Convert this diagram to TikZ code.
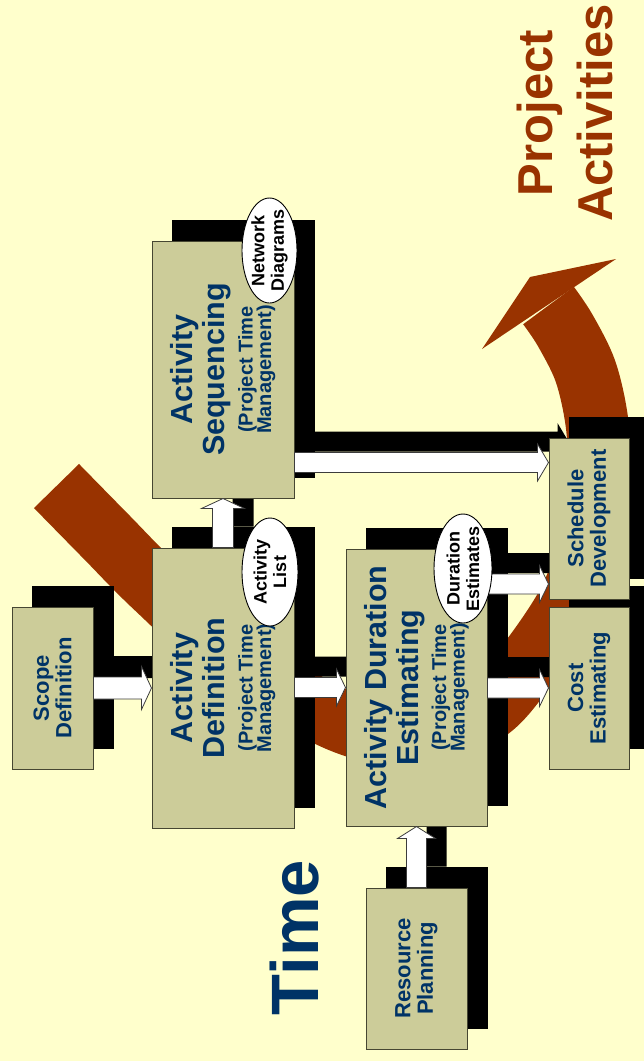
\documentclass[tikz,border=0pt]{standalone}
\usepackage{fontspec}
\setmainfont{Liberation Sans}
\usetikzlibrary{calc,shapes.geometric}
\definecolor{bgy}{RGB}{255,255,204}
\definecolor{rust}{RGB}{153,51,0}
\definecolor{tanbox}{RGB}{204,204,153}
\definecolor{navy}{RGB}{0,51,102}
\definecolor{edgec}{RGB}{70,70,50}
\definecolor{arredge}{RGB}{60,60,60}
\pgfdeclarelayer{back}
\pgfdeclarelayer{shade}
\pgfsetlayers{back,shade,main}
\newcommand{\fBig}{\fontsize{30.5}{32}\selectfont\bfseries}
\newcommand{\fSmall}{\fontsize{20}{18.5}\selectfont\bfseries}
\newcommand{\fBox}{\fontsize{22}{22.5}\selectfont\bfseries}
\newcommand{\fEll}{\fontsize{18}{19.5}\selectfont\bfseries}
% horizontal block arrow: style, from, to(tip), shaft half, head half, head length, dx, dy (canvas pt)
\newcommand{\harrow}[8]{%
\path[#1] let \p1=(#2), \p2=(#3) in
 ({\x1+#7pt},{\y2+#8pt+#4pt}) -- ({\x2-#6pt+#7pt},{\y2+#8pt+#4pt}) --
 ({\x2-#6pt+#7pt},{\y2+#8pt+#5pt}) -- ({\x2+#7pt},{\y2+#8pt}) --
 ({\x2-#6pt+#7pt},{\y2+#8pt-#5pt}) -- ({\x2-#6pt+#7pt},{\y2+#8pt-#4pt}) --
 ({\x1+#7pt},{\y2+#8pt-#4pt}) -- cycle;}
% upward block arrow
\newcommand{\varrow}[8]{%
\path[#1] let \p1=(#2), \p2=(#3) in
 ({\x2+#7pt-#4pt},{\y1+#8pt}) -- ({\x2+#7pt-#4pt},{\y2+#8pt-#6pt}) --
 ({\x2+#7pt-#5pt},{\y2+#8pt-#6pt}) -- ({\x2+#7pt},{\y2+#8pt}) --
 ({\x2+#7pt+#5pt},{\y2+#8pt-#6pt}) -- ({\x2+#7pt+#4pt},{\y2+#8pt-#6pt}) --
 ({\x2+#7pt+#4pt},{\y1+#8pt}) -- cycle;}
\newcommand{\boxshadow}[1]{\fill[black] ([xshift=20pt,yshift=21pt]#1.south west) rectangle ([xshift=20pt,yshift=21pt]#1.north east);}
\tikzset{
 box/.style={rectangle, rotate=90, fill=tanbox, draw=edgec, line width=1pt, inner sep=0pt, text=navy, align=center},
 bigbox/.style={box, font=\fBig},
 smallbox/.style={box, font=\fBox},
 tag/.style={ellipse, rotate=90, fill=white, draw=black, line width=0.9pt, inner xsep=-12pt, inner ysep=-10pt, font=\fEll, align=center, text=black},
 blockarr/.style={fill=white, draw=arredge, line width=0.8pt, line join=miter},
 arrshadow/.style={fill=black},
 band/.style={draw=rust, line width=63pt, line cap=butt, line join=round},
}
\begin{document}
\begin{tikzpicture}[x=1pt,y=-1pt]
\useasboundingbox (0,0) rectangle (644,1061);
\coordinate (lvlDE) at (0,584);
\coordinate (lvlSS) at (0,462.5);
% background and big curved arrow
\begin{pgfonlayer}{back}
\fill[bgy] (0,0) rectangle (644,1061);
\draw[band] plot[smooth, tension=0.55] coordinates {(56.5,486) (106,536.5) (156,587) (240,662) (341,721) (420,736) (486,711) (527,665) (570,600) (594,530) (599,460) (596,416) (585,370) (565,330) (548.5,305.5)};
\fill[rust] (482,349) -- (530,277) -- (616,259) -- cycle;
\end{pgfonlayer}
% boxes (rotated: north = page left, south = page right, east = page top, west = page bottom)
\node[smallbox, minimum width=162pt, minimum height=81pt] (scope) at (52.5,688) {Scope\\Definition};
\node[bigbox, minimum width=280pt, minimum height=142pt] (actdef) at (223,688) {Activity\\Definition\\[-4pt]{\fSmall (Project Time}\\[-13.5pt]{\fSmall Management)}};
\node[bigbox, minimum width=257pt, minimum height=142pt] (seq) at (223,369.5) {Activity\\Sequencing\\[-4pt]{\fSmall (Project Time}\\[-13.5pt]{\fSmall Management)}};
\node[bigbox, minimum width=277pt, minimum height=141pt] (ade) at (416.5,687.5) {Activity Duration\\Estimating\\[-4pt]{\fSmall (Project Time}\\[-13.5pt]{\fSmall Management)}};
\node[smallbox, minimum width=161pt, minimum height=80pt] (sched) at (589,518.5) {Schedule\\Development};
\node[smallbox, minimum width=162pt, minimum height=80pt] (cost) at (589,688) {Cost\\Estimating};
\node[smallbox, minimum width=161pt, minimum height=101pt] (resplan) at (416.5,968.5) {Resource\\Planning};
% shadows
\begin{pgfonlayer}{shade}
\boxshadow{scope}
\boxshadow{actdef}
\boxshadow{seq}
\boxshadow{ade}
\boxshadow{sched}
\boxshadow{cost}
\boxshadow{resplan}
\harrow{arrshadow}{scope.south}{actdef.north}{11}{21.5}{10}{20}{21}
\harrow{arrshadow}{actdef.south}{ade.north}{10}{18.5}{9}{20}{21}
\harrow{arrshadow}{ade.south}{cost.north}{10}{18.5}{9}{20}{21}
\harrow{arrshadow}{ade.south}{sched.north |- lvlDE}{10}{18.5}{9}{20}{21}
\harrow{arrshadow}{seq.south}{sched.north |- lvlSS}{10}{18.5}{11}{20}{21}
\varrow{arrshadow}{actdef.east}{seq.west}{10.5}{21.5}{10}{20}{21}
\varrow{arrshadow}{resplan.east}{ade.west}{10}{19}{12}{20}{21}
\end{pgfonlayer}
% block arrows
\harrow{blockarr}{scope.south}{actdef.north}{11}{21.5}{10}{0}{0}
\harrow{blockarr}{actdef.south}{ade.north}{10}{18.5}{9}{0}{0}
\harrow{blockarr}{ade.south}{cost.north}{10}{18.5}{9}{0}{0}
\harrow{blockarr}{ade.south}{sched.north |- lvlDE}{10}{18.5}{9}{0}{0}
\harrow{blockarr}{seq.south}{sched.north |- lvlSS}{10}{18.5}{11}{0}{0}
\varrow{blockarr}{actdef.east}{seq.west}{10.5}{21.5}{10}{0}{0}
\varrow{blockarr}{resplan.east}{ade.west}{10}{19}{12}{0}{0}
% output tags
\node[tag, minimum width=105pt, minimum height=55pt] (netdiag) at (269.5,250.5) {Network\\Diagrams};
\node[tag, minimum width=108pt, minimum height=56pt] (actlist) at (270,572) {Activity\\List};
\node[tag, minimum width=109pt, minimum height=58pt] (durest) at (463,568.5) {Duration\\Estimates};
% titles
\node[rotate=90, anchor=base, inner sep=0pt, text=navy, font=\fontsize{67}{67}\selectfont\bfseries] (time) at (318,937.5) {Time};
\node[rotate=90, inner sep=0pt, text=rust, align=center, font=\fontsize{49}{60}\selectfont\bfseries] (projact) at (564.5,113) {Project\\Activities};
\end{tikzpicture}
\end{document}
